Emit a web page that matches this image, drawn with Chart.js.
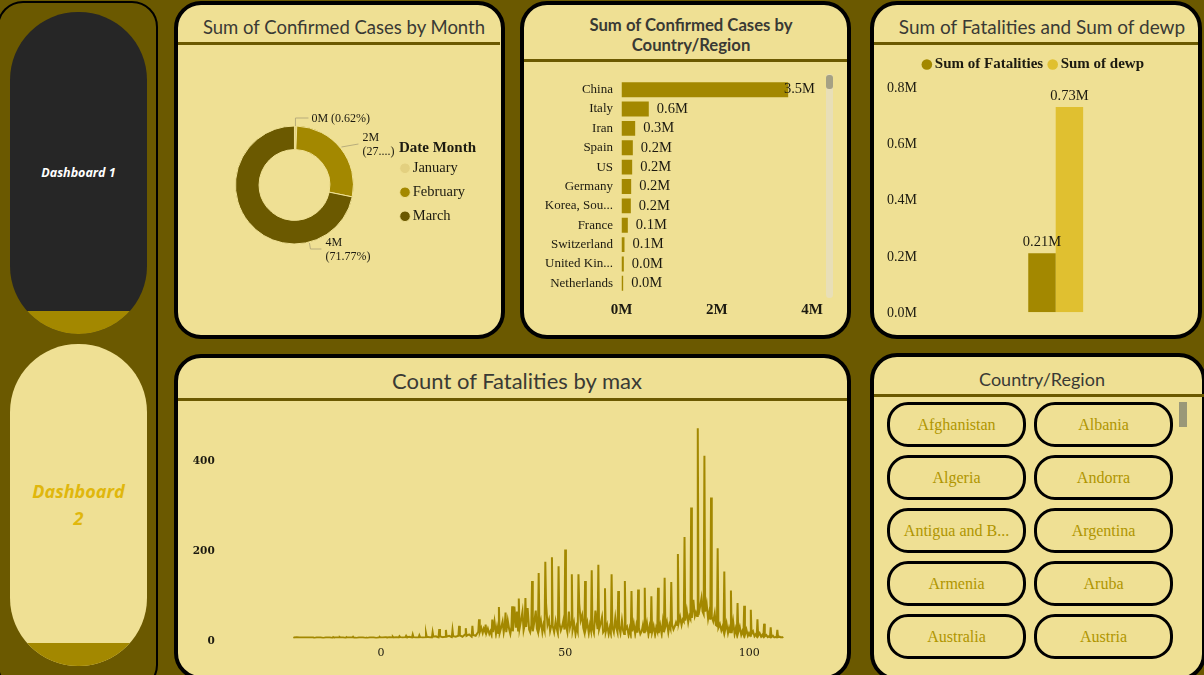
<!DOCTYPE html>
<html>
<head>
<meta charset="utf-8">
<title>Dashboard</title>
<script src="https://cdn.jsdelivr.net/npm/chart.js@4/dist/chart.umd.min.js"></script>
<style>
  html, body { margin: 0; padding: 0; }
  body { width: 1204px; height: 675px; position: relative; overflow: hidden; background: #6b5900; font-family: 'Liberation Serif', serif; }
  .box { position: absolute; box-sizing: border-box; }
  .panel { background: #efe094; border: 4px solid #000; border-radius: 27px; }
  .rule { position: absolute; background: #6b5900; height: 3px; }
  .title { position: absolute; text-align: center; font-family: Lato, sans-serif; color: #3a3a34; white-space: nowrap; }
  canvas { position: absolute; display: block; }
  .pill { position: absolute; left: 10px; width: 137px; height: 322px; border-radius: 68px; overflow: hidden; }
  .pill .foot { position: absolute; left: 0; right: 0; bottom: 0; height: 23px; background: #a38800; }
  .pill .txt { position: absolute; left: 0; right: 0; text-align: center; font-family: 'Open Sans', sans-serif; font-style: italic; font-weight: 700; }
  .slicer { position: absolute; box-sizing: border-box; width: 139px; height: 45px; border: 3px solid #000; border-radius: 21px; color: #b09500; font-size: 16px; text-align: center; line-height: 39px; white-space: nowrap; }
</style>
</head>
<body>

<div class="box" style="left:-3px;top:1px;width:161px;height:690px;border:2px solid #000;border-radius:26px"></div>
<div class="pill" style="top:12px;background:#262626"><div class="foot"></div><div class="txt" style="top:152px;font-size:12.5px;color:#fff">Dashboard 1</div></div>
<div class="pill" style="top:344px;background:#efe094"><div class="foot"></div><div class="txt" style="top:134px;font-size:18px;line-height:27px;color:#e0b70c">Dashboard<br>2</div></div>

<div class="box panel" style="left:174px;top:1px;width:331px;height:338px"></div>
<div class="rule" style="left:178px;top:42px;width:322px"></div>
<div class="title" style="left:178px;top:16px;width:332px;font-size:18.5px">Sum of Confirmed Cases by Month</div>
<canvas id="monthChart" width="320" height="250" style="left:180px;top:60px"></canvas>

<div class="box panel" style="left:520px;top:1px;width:331px;height:338px"></div>
<div class="rule" style="left:524px;top:59px;width:323px"></div>
<div class="title" style="left:524px;top:15px;width:334px;font-size:16.7px;line-height:20px;font-weight:700">Sum of Confirmed Cases by<br>Country/Region</div>
<canvas id="countryChart" width="323" height="272" style="left:524px;top:62px"></canvas>
<div class="box" style="left:826px;top:74px;width:7px;height:224px;background:#e8dfb8;border-radius:4px"></div>
<div class="box" style="left:826px;top:75px;width:7px;height:14px;background:#a5a184;border-radius:3px"></div>

<div class="box panel" style="left:870px;top:1px;width:332px;height:338px"></div>
<div class="rule" style="left:874px;top:42px;width:324px"></div>
<div class="title" style="left:874px;top:15px;width:336px;font-size:19px">Sum of Fatalities and Sum of dewp</div>
<canvas id="totalsChart" width="319" height="286" style="left:884px;top:48px"></canvas>

<div class="box panel" style="left:174px;top:354px;width:677px;height:326px"></div>
<div class="rule" style="left:178px;top:398px;width:669px"></div>
<div class="title" style="left:178px;top:367px;width:678px;font-size:22px">Count of Fatalities by max</div>
<canvas id="fatalityChart" width="669" height="270" style="left:178px;top:402px"></canvas>

<div class="box panel" style="left:870px;top:353px;width:336px;height:328px"></div>
<div class="rule" style="left:874px;top:394px;width:330px"></div>
<div class="title" style="left:874px;top:368px;width:336px;font-size:18px">Country/Region</div>
<div id="slicers"></div>
<div class="box" style="left:1179px;top:402px;width:8px;height:25px;background:#9a9878"></div>

<script>
// Slicer buttons
const slicerItems = ['Afghanistan', 'Albania', 'Algeria', 'Andorra', 'Antigua and B...', 'Argentina', 'Armenia', 'Aruba', 'Australia', 'Austria']

// Donut: confirmed cases by month (millions)
const months = ['January', 'February', 'March']
const monthCases = [0.034, 1.5, 3.9]
const monthLabels = [['0M (0.62%)'], ['2M', '(27....)'], ['4M', '(71.77%)']]
const monthLegendTitle = 'Date Month'

// Bars: confirmed cases by country (millions)
const countries = ['China', 'Italy', 'Iran', 'Spain', 'US', 'Germany', 'Korea, Sou...', 'France', 'Switzerland', 'United Kin...', 'Netherlands']
const countryCases = [3.5, 0.573, 0.287, 0.238, 0.224, 0.203, 0.196, 0.133, 0.063, 0.049, 0.035]
const countryTicks = [0, 2, 4]

// Bars: totals (millions)
const sumFatalities = [0.21]
const sumDewp = [0.73]
const totalsTicks = [0, 0.2, 0.4, 0.6, 0.8]

// Line: count of fatalities by max temperature
const fatalityTicksX = [0, 50, 100]
const fatalityTicksY = [0, 200, 400]
const maxTemps = [
  -23.8, -23.6, -22.9, -22.2, -22, -21.8, -21.1, -20.4, -20.2, -20, -19.3, -18.6, -18.4, -18.2, -17.5, -16.8,
  -16.6, -16.4, -15.7, -15, -14.8, -14.6, -13.9, -13.2, -13, -12.8, -12.1, -11.4, -11.2, -11, -10.3, -9.6,
  -9.4, -9.2, -8.5, -7.8, -7.6, -7.4, -6.7, -6, -5.8, -5.6, -4.9, -4.2, -4, -3.8, -3.1, -2.4,
  -2.2, -2, -1.3, -0.6, -0.4, -0.2, 0.5, 1.2, 1.4, 1.6, 2.3, 3, 3.2, 3.4, 4.1, 4.8,
  5, 5.2, 5.9, 6.6, 6.8, 7, 7.7, 8.4, 8.6, 8.8, 9.5, 10.2, 10.4, 10.6, 11.3, 12,
  12.2, 12.4, 13.1, 13.8, 14, 14.2, 14.9, 15.6, 15.8, 16, 16.7, 17.4, 17.6, 17.8, 18.5, 19.2,
  19.4, 19.6, 20.3, 21, 21.2, 21.4, 22.1, 22.8, 23, 23.2, 23.9, 24.6, 24.8, 25, 25.7, 26.4,
  26.6, 26.8, 27.2, 27.6, 27.9, 28.2, 28.4, 28.6, 29, 29.4, 29.7, 30,
  30.2, 30.4, 30.8, 31.2, 31.5, 31.8, 32, 32.2, 32.6, 33, 33.3, 33.6,
  33.8, 34, 34.4, 34.8, 35.1, 35.4, 35.6, 35.8, 36.2, 36.6, 36.9, 37.2,
  37.4, 37.6, 38, 38.4, 38.7, 39, 39.2, 39.4, 39.8, 40.2, 40.5, 40.8,
  41, 41.2, 41.6, 42, 42.3, 42.6, 42.8, 43, 43.4, 43.8, 44.1, 44.4,
  44.6, 44.8, 45.2, 45.6, 45.9, 46.2, 46.4, 46.6, 47, 47.4, 47.7, 48,
  48.2, 48.4, 48.8, 49.2, 49.5, 49.8, 50, 50.2, 50.6, 51, 51.3, 51.6,
  51.8, 52, 52.4, 52.8, 53.1, 53.4, 53.6, 53.8, 54.2, 54.6, 54.9, 55.2,
  55.4, 55.6, 56, 56.4, 56.7, 57, 57.2, 57.4, 57.8, 58.2, 58.5, 58.8,
  59, 59.2, 59.6, 60, 60.3, 60.6, 60.8, 61, 61.4, 61.8, 62.1, 62.4,
  62.6, 62.8, 63.2, 63.6, 63.9, 64.2, 64.4, 64.6, 65, 65.4, 65.7, 66,
  66.2, 66.4, 66.8, 67.2, 67.5, 67.8, 68, 68.2, 68.6, 69, 69.3, 69.6,
  69.8, 70, 70.4, 70.8, 71.1, 71.4, 71.6, 71.8, 72.2, 72.6, 72.9, 73.2,
  73.4, 73.6, 74, 74.4, 74.7, 75, 75.2, 75.4, 75.8, 76.2, 76.5, 76.8,
  77, 77.2, 77.6, 78, 78.3, 78.6, 78.8, 79, 79.4, 79.8, 80.1, 80.4,
  80.6, 80.8, 81.2, 81.6, 81.9, 82.2, 82.4, 82.6, 83, 83.4, 83.7, 84,
  84.2, 84.4, 84.8, 85.2, 85.5, 85.8, 86, 86.2, 86.6, 87, 87.3, 87.6,
  87.8, 88, 88.4, 88.8, 89.1, 89.4, 89.6, 89.8, 90.2, 90.6, 90.9, 91.2,
  91.4, 91.6, 92, 92.4, 92.7, 93, 93.2, 93.4, 93.8, 94.2, 94.5, 94.8,
  95, 95.2, 95.6, 96, 96.3, 96.6, 96.8, 97, 97.4, 97.8, 98.1, 98.4,
  98.6, 98.8, 99.2, 99.6, 99.9, 100.2, 100.4, 100.6, 101, 101.4, 101.7, 102,
  102.2, 102.4, 102.8, 103.2, 103.5, 103.8, 104, 104.2, 104.6, 105, 105.3, 105.6,
  105.8, 106, 106.4, 106.8, 107.1, 107.4, 107.6, 107.8, 108.2, 108.6, 108.9, 109.2, 109.4
]
const fatalityCounts = [
  3, 2, 3, 2, 2, 2, 2, 2, 2, 2, 2, 2, 2, 1, 2, 2,
  2, 2, 1, 2, 2, 2, 2, 1, 3, 2, 2, 2, 3, 2, 2, 1,
  3, 2, 2, 2, 4, 2, 1, 2, 2, 2, 2, 1, 2, 1, 2, 2,
  2, 2, 1, 2, 4, 2, 2, 3, 3, 2, 3, 2, 4, 2, 3, 2,
  5, 3, 2, 3, 6, 3, 4, 2, 9, 3, 2, 2, 7, 3, 2, 3,
  12, 4, 3, 2, 14, 4, 5, 2, 21, 5, 3, 4, 19, 4, 6, 3,
  19, 5, 4, 6, 28, 7, 4, 9, 23, 6, 9, 4, 28, 8, 6, 15,
  43, 14, 24, 12, 22, 16, 31, 12, 22, 10, 16, 8,
  42, 14, 38, 10, 26, 12, 70, 12, 24, 38, 14, 30,
  58, 14, 40, 20, 10, 26, 72, 16, 71, 24, 60, 18,
  89, 22, 40, 60, 18, 30, 90, 26, 68, 20, 14, 30,
  128, 16, 36, 62, 22, 14, 146, 25, 40, 14, 30, 19,
  171, 78, 30, 42, 17, 28, 181, 28, 14, 38, 22, 12,
  161, 35, 18, 28, 40, 20, 198, 30, 14, 60, 25, 36,
  143, 18, 35, 10, 26, 16, 143, 78, 40, 52, 24, 14,
  128, 22, 36, 12, 30, 18, 152, 24, 12, 62, 40, 21,
  164, 20, 32, 48, 14, 18, 112, 15, 30, 10, 24, 12,
  143, 26, 14, 46, 24, 14, 106, 28, 12, 40, 18, 10,
  128, 20, 26, 8, 22, 9, 106, 16, 34, 10, 28, 13,
  109, 24, 10, 17, 30, 14, 113, 15, 34, 9, 26, 12,
  94, 14, 28, 8, 24, 16, 113, 12, 30, 10, 36, 14,
  135, 26, 38, 14, 30, 22, 126, 32, 20, 28, 36, 30,
  188, 34, 48, 30, 42, 38, 226, 40, 62, 36, 50, 44,
  292, 46, 86, 50, 58, 50, 468, 52, 70, 90, 60, 54,
  407, 60, 78, 44, 58, 42, 314, 48, 38, 56, 30, 28,
  201, 24, 32, 18, 26, 16, 149, 18, 34, 12, 24, 14,
  107, 12, 38, 10, 22, 10, 79, 14, 26, 8, 16, 9,
  73, 8, 20, 6, 12, 6, 64, 10, 16, 5, 9, 5,
  43, 6, 12, 4, 8, 4, 33, 5, 8, 3, 5, 3,
  25, 3, 6, 2, 3, 2, 19, 3, 4, 2, 3, 1, 1
]

const gold = '#a38800'
const lightGold = '#e0c030'
const paleGold = '#e3d080'
const darkGold = '#6b5900'
const ink = '#1c1a10'
const serif = "'Liberation Serif', serif"

Chart.defaults.animation = false
Chart.defaults.responsive = false
Chart.defaults.font.family = serif
Chart.defaults.color = ink

// slicer grid
const slicerBox = document.getElementById('slicers')
slicerItems.forEach(function (name, i) {
  const el = document.createElement('div')
  el.className = 'slicer'
  el.textContent = name
  el.style.left = (i % 2 === 0 ? 887 : 1034) + 'px'
  el.style.top = 402 + Math.floor(i / 2) * 53 + 'px'
  slicerBox.appendChild(el)
})

// writes each bar's value at the end of the bar
function barValueLabels(decimals, place) {
  return {
    id: 'barValueLabels',
    afterDatasetsDraw(chart) {
      const c = chart.ctx
      c.save()
      c.font = '14.5px ' + serif
      c.fillStyle = ink
      chart.data.datasets.forEach(function (ds, d) {
        chart.getDatasetMeta(d).data.forEach(function (bar, i) {
          place(c, bar, ds.data[i].toFixed(decimals) + 'M')
        })
      })
      c.restore()
    },
  }
}

// donut outside labels with thin leader lines, offsets from the donut centre
const donutLeaders = [
  { path: [[1, -59], [1, -67], [14, -67]], text: [17, -66] },
  { path: [[47, -38], [64, -41]], text: [68, -47] },
  { path: [[15, 58], [16, 64], [27, 64]], text: [31, 58] },
]
const donutLabelPlugin = {
  id: 'donutLabels',
  // the legend sits under its own heading, closer to the donut than the layout puts it
  afterLayout(chart) {
    const legend = chart.legend
    legend.right = 215 + legend.width
    legend.left = 215
    legend.top += 26
    legend.bottom += 26
  },
  afterDatasetsDraw(chart) {
    const arc = chart.getDatasetMeta(0).data[0]
    const c = chart.ctx
    c.save()
    c.font = '12px ' + serif
    c.fillStyle = ink
    c.strokeStyle = '#b8ad7c'
    c.lineWidth = 1
    c.textBaseline = 'middle'
    donutLeaders.forEach(function (lead, i) {
      c.beginPath()
      lead.path.forEach(function (p, k) {
        if (k === 0) c.moveTo(arc.x + p[0], arc.y + p[1])
        else c.lineTo(arc.x + p[0], arc.y + p[1])
      })
      c.stroke()
      monthLabels[i].forEach(function (line, k) {
        c.fillText(line, arc.x + lead.text[0], arc.y + lead.text[1] + k * 13.5)
      })
    })
    c.font = 'bold 15px ' + serif
    c.fillText(monthLegendTitle, arc.x + 104.5, arc.y - 37)
    c.restore()
  },
}

new Chart(document.getElementById('monthChart'), {
  type: 'doughnut',
  data: {
    labels: months,
    datasets: [{
      data: monthCases,
      backgroundColor: [paleGold, gold, darkGold],
      borderColor: '#efe094',
      borderWidth: 1,
    }],
  },
  options: {
    cutout: '60%',
    layout: { padding: { left: 0, right: 11, top: 65.5, bottom: 65.5 } },
    plugins: {
      tooltip: { enabled: false },
      legend: {
        position: 'right',
        align: 'start',
        labels: { usePointStyle: true, pointStyle: 'circle', boxWidth: 1, boxHeight: 7.5, padding: 9.5, color: ink, font: { size: 14.5 } },
      },
    },
  },
  plugins: [donutLabelPlugin],
})

new Chart(document.getElementById('countryChart'), {
  type: 'bar',
  data: {
    labels: countries,
    datasets: [{ data: countryCases, backgroundColor: gold, barPercentage: 0.77, categoryPercentage: 1 }],
  },
  options: {
    indexAxis: 'y',
    layout: { padding: { top: 18, right: 35 } },
    plugins: { legend: { display: false }, tooltip: { enabled: false } },
    scales: {
      x: {
        min: 0,
        max: 4,
        afterBuildTicks(axis) { axis.ticks = countryTicks.map((v) => ({ value: v })) },
        afterFit(axis) { axis.height = 41 },
        grid: { display: false },
        border: { display: false },
        ticks: { callback: (v) => v + 'M', padding: 0, color: ink, font: { size: 15, weight: 'bold' }, maxRotation: 0 },
      },
      y: {
        afterFit(axis) { axis.width = 97.5 },
        grid: { display: false },
        border: { display: false },
        ticks: { autoSkip: false, padding: 0.5, color: ink, font: { size: 13 } },
      },
    },
  },
  plugins: [barValueLabels(1, function (c, bar, text) {
    c.textBaseline = 'middle'
    const w = c.measureText(text).width
    c.fillText(text, Math.min(bar.x + 8, 291 - w), bar.y)
  })],
})

new Chart(document.getElementById('totalsChart'), {
  type: 'bar',
  data: {
    labels: [''],
    datasets: [
      { label: 'Sum of Fatalities', data: sumFatalities, backgroundColor: gold, barPercentage: 1, categoryPercentage: 0.21 },
      { label: 'Sum of dewp', data: sumDewp, backgroundColor: lightGold, barPercentage: 1, categoryPercentage: 0.21 },
    ],
  },
  options: {
    layout: { padding: { right: 16.6 } },
    plugins: {
      tooltip: { enabled: false },
      legend: {
        labels: { usePointStyle: true, pointStyle: 'circle', boxWidth: 1, boxHeight: 7.5, padding: 9, color: ink, font: { size: 15, weight: 'bold' } },
      },
    },
    scales: {
      x: {
        grid: { display: false },
        border: { display: false },
        ticks: { display: false },
        afterFit(axis) { axis.height = 21.7 },
      },
      y: {
        min: 0,
        max: 0.8188,
        afterBuildTicks(axis) { axis.ticks = totalsTicks.map((v) => ({ value: v })) },
        afterFit(axis) { axis.width = 41 },
        grid: { display: false },
        border: { display: false },
        ticks: { callback: (v) => v.toFixed(1) + 'M', padding: 0, labelOffset: 1, color: ink, font: { size: 14 } },
      },
    },
  },
  plugins: [barValueLabels(2, function (c, bar, text) {
    c.textBaseline = 'bottom'
    c.textAlign = 'center'
    c.fillText(text, bar.x, bar.y - 4)
  })],
})

new Chart(document.getElementById('fatalityChart'), {
  type: 'line',
  data: {
    datasets: [{
      data: maxTemps.map((x, i) => ({ x: x, y: fatalityCounts[i] })),
      borderColor: gold,
      borderWidth: 2,
      pointRadius: 0,
      tension: 0,
    }],
  },
  options: {
    layout: { padding: { top: 12, right: 24 } },
    plugins: { legend: { display: false }, tooltip: { enabled: false } },
    scales: {
      x: {
        type: 'linear',
        min: -43,
        max: 120,
        afterBuildTicks(axis) { axis.ticks = fatalityTicksX.map((v) => ({ value: v })) },
        afterFit(axis) { axis.height = 33.5 },
        grid: { display: false },
        border: { display: false },
        ticks: { padding: 0, color: ink, font: { family: "'DejaVu Serif', serif", size: 11 }, maxRotation: 0 },
      },
      y: {
        min: 0,
        max: 500,
        afterBuildTicks(axis) { axis.ticks = fatalityTicksY.map((v) => ({ value: v })) },
        afterFit(axis) { axis.width = 44.7 },
        grid: { display: false },
        border: { display: false },
        ticks: { padding: 0, labelOffset: 2.5, color: ink, font: { family: "'DejaVu Serif', serif", size: 10.5, weight: 'bold' } },
      },
    },
  },
})
</script>
</body>
</html>
